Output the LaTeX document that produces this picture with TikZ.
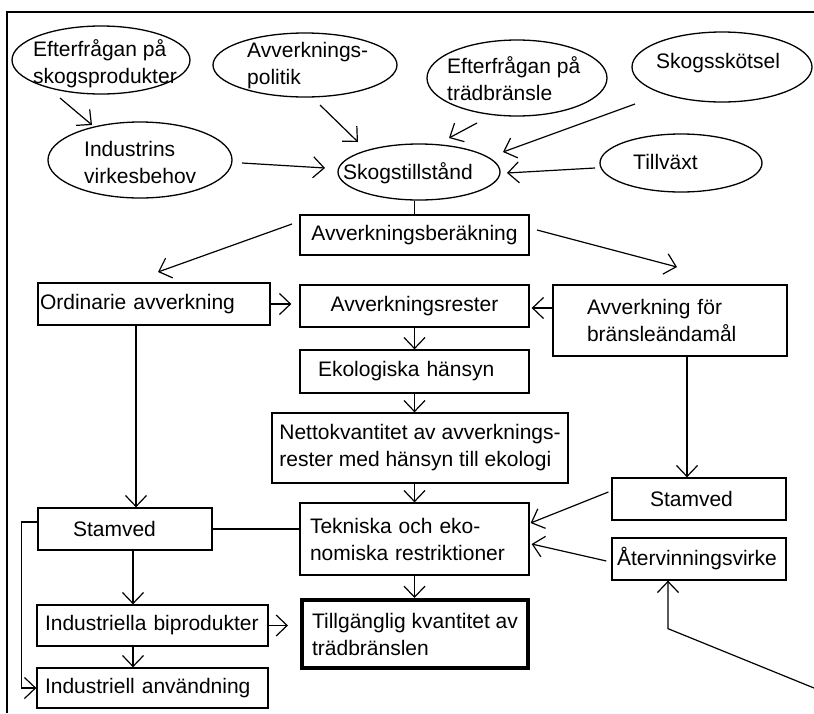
\documentclass[tikz,border=0pt]{standalone}
\usepackage{fontspec}
\setmainfont{Liberation Sans}
\usetikzlibrary{arrows.meta,shapes.geometric}
\begin{document}
\begin{tikzpicture}[x=1pt,y=-1pt,
  every node/.style={font=\fontsize{21}{27}\selectfont, text=black},
  ell/.style={draw, ellipse, inner sep=0pt, line width=1.3pt},
  txt/.style={inner sep=0pt, align=left, anchor=west},
  bx/.style={draw, rectangle, inner ysep=0pt, line width=1.3pt, align=left},
  arr/.style={line width=1.2pt, -{Straight Barb[length=11pt,width=21pt]}},
  ln/.style={line width=1.2pt}]
\useasboundingbox (0,0) rectangle (814,713);
\fill[white] (0,0) rectangle (814,713);
\draw[line width=1.4pt] (7,713) -- (7,12) -- (814,12);

% ellipses
\node[ell, minimum width=178pt, minimum height=68pt] (E1) at (101,60) {};
\node[ell, minimum width=184pt, minimum height=64pt] (E2) at (305,65) {};
\node[ell, minimum width=184pt, minimum height=76pt] (E3) at (140,160) {};
\node[ell, minimum width=180pt, minimum height=76pt] (E4) at (517,78) {};
\node[ell, minimum width=180pt, minimum height=70pt] (E5) at (722,67) {};
\node[ell, minimum width=162pt, minimum height=58pt] (E6) at (681,163) {};
\node[ell, minimum width=162pt, minimum height=56pt] (E7) at (419,172) {};

\node[txt] (t1) at (33,64) {Efterfrågan på\\skogsprodukter};
\node[txt] (t2) at (247,66) {Avverknings-\\politik};
\node[txt] (t3) at (84,162) {Industrins\\virkesbehov};
\node[txt] (t4) at (447,79) {Efterfrågan på\\trädbränsle};
\node[txt] (t5) at (656,63) {Skogsskötsel};
\node[txt] (t6) at (633,162) {Tillväxt};
\node[txt] (t7) at (343,173) {Skogstillstånd};

% boxes
\node[bx, minimum width=229pt, minimum height=40pt] (B1) at (414.5,235) {Avverkningsberäkning};
\node[bx, minimum width=232pt, minimum height=42pt, text width=228pt, inner xsep=2pt] (B2) at (154,304) {Ordinarie avverkning};
\node[bx, minimum width=229pt, minimum height=42pt] (B3) at (414.5,306) {Avverkningsrester};
\node[bx, minimum width=234pt, minimum height=71pt, text width=166pt, inner xsep=34pt] (B4) at (670,320.5) {Avverkning för\\bränsleändamål};
\node[bx, minimum width=229pt, minimum height=43pt, text width=193pt, inner xsep=18pt] (B5) at (414.5,371.5) {Ekologiska hänsyn};
\node[bx, minimum width=296pt, minimum height=70pt] (B6) at (420,448) {Nettokvantitet av avverknings-\\rester med hänsyn till ekologi};
\node[bx, minimum width=174pt, minimum height=42pt, text width=98pt, inner xsep=38pt] (B7) at (699,499) {Stamved};
\node[bx, minimum width=174pt, minimum height=42pt, text width=164pt, inner xsep=5pt] (B8) at (699,559) {Återvinningsvirke};
\node[bx, minimum width=174pt, minimum height=42pt, text width=104pt, inner xsep=35pt] (B9) at (125,529) {Stamved};
\node[bx, minimum width=229pt, minimum height=72pt, text width=209pt, inner xsep=10pt] (B10) at (414.5,539) {Tekniska och eko-\\nomiska restriktioner};
\node[bx, line width=4pt, minimum width=226pt, minimum height=68pt] (B11) at (415,634) {Tillgänglig kvantitet av\\trädbränslen};
\node[bx, minimum width=231pt, minimum height=41pt, text width=215pt, inner xsep=8pt] (B12) at (152.5,625.5) {Industriella biprodukter};
\node[bx, minimum width=231pt, minimum height=40pt, text width=215pt, inner xsep=8pt] (B13) at (152.5,688) {Industriell användning};

% connectors
\draw[arr] ([shift={(-41,38)}]E1.center) -- ([shift={(-48,-35)}]E3.center);
\draw[arr] ([shift={(15,40)}]E2.center) -- ([shift={(-61,-30)}]E7.center);
\draw[arr] ([shift={(-40,45)}]E4.center) -- ([shift={(30,-34)}]E7.center);
\draw[arr] ([shift={(-87,37)}]E5.center) -- ([shift={(84,-20)}]E7.center);
\draw[arr] ([shift={(-86,5)}]E6.center) -- ([shift={(88,1)}]E7.center);
\draw[arr] ([shift={(102,3)}]E3.center) -- ([shift={(-94,-4)}]E7.center);
\draw[ln] (E7.south -| B1.north) -- (B1.north);
\draw[arr] ([shift={(-122.5,-11)}]B1.center) -- ([shift={(4,-32)}]B2.center);
\draw[arr] ([shift={(122.5,-5)}]B1.center) -- ([shift={(7,-53.5)}]B4.center);
\draw[arr] (B2.east) -- ([shift={(-8,-2)}]B3.west);
\draw[arr] ([shift={(0,-12.5)}]B4.west) -- ([shift={(2,2)}]B3.east);
\draw[arr] (B3.south) -- (B5.north);
\draw[arr] (B5.south) -- (B5.south |- B6.north);
\draw[arr] (B6.south -| B10.north) -- (B10.north);
\draw[arr] (B10.south) -- (B10.south |- B11.north);
\draw[arr] ([shift={(-18,0)}]B2.south) -- ([shift={(11,0)}]B9.north);
\draw[arr] ([shift={(17,0)}]B4.south) -- ([shift={(-12,0)}]B7.north);
\draw[arr] ([shift={(-3,-7)}]B7.west) -- ([shift={(1,-16)}]B10.east);
\draw[arr] ([shift={(-5,2)}]B8.west) -- ([shift={(2,5)}]B10.east);
\draw[ln] (B9.east) -- (B9.east -| B10.west);
\draw[arr] ([shift={(8,0)}]B9.south) -- ([shift={(-19.5,0)}]B12.north);
\draw[arr] (B12.east) -- ([shift={(-12,-8.5)}]B11.west);
\draw[arr] ([shift={(-19.5,0)}]B12.south) -- ([shift={(-19.5,0)}]B13.north);
\draw[arr] ([shift={(0,-7)}]B9.west) -- ++(-16,0) |- (B13.west);
\coordinate (rc) at (814,688);
\draw[arr] (rc) -- ([shift={(-31,48)}]B8.south) -- ([shift={(-31,0)}]B8.south);
\end{tikzpicture}
\end{document}
